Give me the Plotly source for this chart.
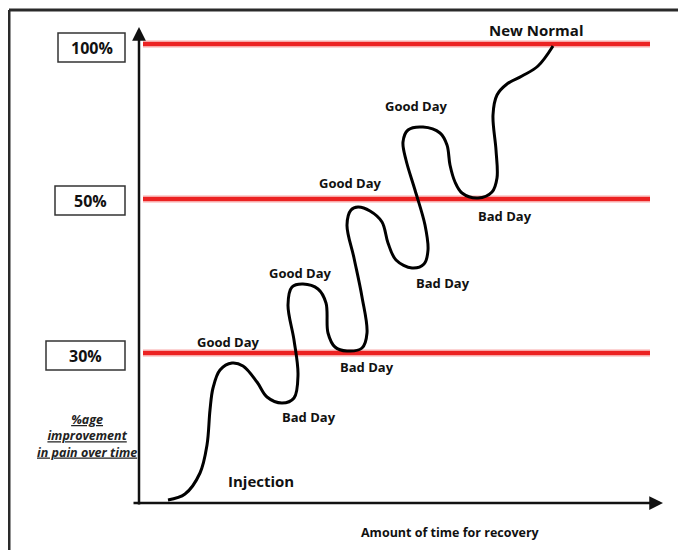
import plotly.graph_objects as go

# ---------------- data (schematic units: time along x, improvement along y) ----------------
curve_time = [29, 46, 61, 68, 71, 74, 81, 93, 104, 118, 128, 143, 155, 159, 155, 149, 153, 164,
              179, 187, 189, 196, 208, 223, 228, 223, 215, 208, 212, 219, 231, 243, 249, 257,
              273, 285, 289, 286, 276, 267, 264, 269, 284, 301, 308, 311, 316, 323, 339, 353,
              358, 357, 354, 358, 368, 383, 399, 414]
curve_improvement = [3, 9, 30, 58, 93, 115, 133, 140, 137, 121, 106, 100, 105, 128, 163, 198, 216, 219,
                     214, 200, 170, 156, 152, 155, 170, 206, 245, 278, 293, 296, 292, 281, 260, 243,
                     235, 239, 253, 278, 313, 343, 361, 373, 376, 370, 358, 338, 321, 310, 305, 311,
                     325, 353, 388, 408, 419, 427, 437, 457]

level_labels = ["30%", "50%", "100%"]
level_values = [150, 304, 459]
level_span = [4, 511]

day_labels = ["Good Day", "Bad Day", "Good Day", "Bad Day", "Good Day", "Bad Day",
              "Good Day", "Bad Day", "New Normal", "Injection"]
day_label_time = [89, 170, 161, 228, 211, 304, 277, 366, 397, 122]
day_label_improvement = [161, 86, 230, 136, 320, 220, 397, 287, 473, 22]

x_title = "Amount of time for recovery"
y_title = "%age<br>improvement<br>in pain over time"

# level label boxes [x0, x1, y0, y1]
level_boxes = [[-93, -14, 133, 162], [-84, -14, 288, 317], [-81, -14, 441, 470]]

FONT = "Open Sans"
INK = "#111111"

fig = go.Figure()

# red level lines (fuzzy look: soft wide halo + solid core)
for v in level_values:
    fig.add_trace(go.Scatter(x=level_span, y=[v, v], mode="lines",
                             line=dict(color="rgba(240,60,60,0.45)", width=7),
                             hoverinfo="skip", showlegend=False))
    fig.add_trace(go.Scatter(x=level_span, y=[v, v], mode="lines",
                             line=dict(color="rgb(236,34,34)", width=4),
                             hoverinfo="skip", showlegend=False))

# recovery curve
fig.add_trace(go.Scatter(x=curve_time, y=curve_improvement, mode="lines",
                         line=dict(color="black", width=3, shape="spline", smoothing=1.0),
                         hoverinfo="skip", showlegend=False))

shapes = []
# outer frame (top and left edges)
shapes.append(dict(type="line", xref="x", yref="y", x0=-130, y0=493, x1=547, y1=493,
                   line=dict(color="#2a2a2a", width=3)))
shapes.append(dict(type="line", xref="x", yref="y", x0=-130, y0=493, x1=-130, y1=-47,
                   line=dict(color="#2a2a2a", width=3)))
# boxes for level labels
for b in level_boxes:
    shapes.append(dict(type="rect", xref="x", yref="y", x0=b[0], x1=b[1], y0=b[2], y1=b[3],
                       line=dict(color="#333333", width=1.5), fillcolor="white"))

annotations = []
# axes as arrows
annotations.append(dict(x=0, y=476, ax=0, ay=-3, xref="x", yref="y", axref="x", ayref="y",
                        text="", showarrow=True, arrowhead=2, arrowsize=1.1, arrowwidth=2.5,
                        arrowcolor=INK, standoff=0, startstandoff=0))
annotations.append(dict(x=524, y=0, ax=-7, ay=0, xref="x", yref="y", axref="x", ayref="y",
                        text="", showarrow=True, arrowhead=2, arrowsize=1.1, arrowwidth=2.5,
                        arrowcolor=INK, standoff=0, startstandoff=0))

# level labels inside boxes
for lab, b in zip(level_labels, level_boxes):
    annotations.append(dict(x=(b[0] + b[1]) / 2, y=(b[2] + b[3]) / 2, xref="x", yref="y",
                            text=f"<b>{lab}</b>", showarrow=False,
                            font=dict(family=FONT, size=16, color=INK)))

# curve labels
for lab, t, v in zip(day_labels, day_label_time, day_label_improvement):
    size = 13
    if lab == "New Normal":
        size = 15
    elif lab == "Injection":
        size = 15
    annotations.append(dict(x=t, y=v, xref="x", yref="y", text=f"<b>{lab}</b>",
                            showarrow=False, font=dict(family=FONT, size=size, color=INK)))

# axis titles
annotations.append(dict(x=311, y=-29, xref="x", yref="y", text=f"<b>{x_title}</b>",
                        showarrow=False, font=dict(family=FONT, size=12.5, color=INK)))
yt = "<br>".join(f"<b><i><u>{s}</u></i></b>" for s in y_title.split("<br>"))
annotations.append(dict(x=-52, y=67, xref="x", yref="y", text=yt, showarrow=False,
                        align="center", font=dict(family=FONT, size=12.5, color="#222222")))

# page body has an 8px margin: figure is sized to the remaining window area
fig.update_layout(
    width=678, height=542,
    margin=dict(l=0, r=0, t=0, b=0),
    paper_bgcolor="white", plot_bgcolor="white",
    xaxis=dict(range=[-131, 547], visible=False, fixedrange=True),
    yaxis=dict(range=[-47, 495], visible=False, fixedrange=True),
    shapes=shapes, annotations=annotations,
    showlegend=False,
)

fig.write_html("out.html")
